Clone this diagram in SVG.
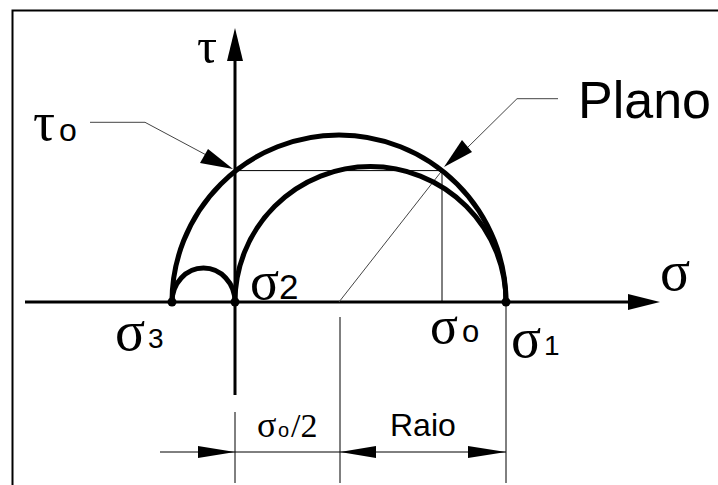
<svg xmlns="http://www.w3.org/2000/svg" width="718" height="485" viewBox="0 0 718 485">
<style>
.thick{fill:none;stroke:#000;stroke-width:5;stroke-linecap:round}
.axis{fill:none;stroke:#000;stroke-width:3}
.thin{fill:none;stroke:#000;stroke-width:1}
.lead{fill:none;stroke:#444;stroke-width:1}
.g{font-family:"Liberation Serif","Times New Roman",serif;fill:#000}
.s{font-family:"Liberation Sans",Arial,sans-serif;fill:#000}
</style>
<rect width="718" height="485" fill="#fff"/>
<g id="frame"><path d="M12.5,485 V10.5 H718" fill="none" stroke="#000" stroke-width="2"/></g>
<g id="connectors">
<path class="axis" d="M235,395 V50"/>
<polygon points="235,28 227,61 243,61"/>
<path class="axis" d="M25,302 H640"/>
<polygon points="660,302 628,294 628,310"/>
<path class="thin" d="M235,170.6 H442 V302"/>
<path class="lead" d="M339,302 L442,170.6"/>
<path class="lead" d="M90,122.3 H145 L210,157"/>
<polygon points="233,169 200,163 208,149"/>
<path class="lead" d="M558,98.7 H517 L465,150"/>
<polygon points="444,167 462,140 472,152"/>
<path class="thin" d="M235,412 V483 M340,317 V483 M506,302 V483"/>
<path class="thin" d="M160,452 H506"/>
<polygon points="235,452 198,446 198,458"/>
<polygon points="340,452 376,446 376,458"/>
<polygon points="506,452 468,446 468,458"/>
</g>
<g id="circles">
<path class="thick" d="M172,302 A167,167 0 0 1 506,302"/>
<path class="thick" d="M235,302 A135.5,135.5 0 0 1 506,302"/>
<path class="thick" d="M172,302 A31.5,34 0 0 1 235,302"/>
</g>
<g id="points">
<circle cx="172" cy="302" r="4.5"/>
<circle cx="235" cy="302" r="4.5"/>
<circle cx="506" cy="302" r="4.5"/>
</g>
<g id="labels">
<text class="g" x="197" y="63" font-size="50">τ</text>
<text class="g" x="33" y="140" font-size="55">τ</text><text class="s" x="59" y="141" font-size="32">o</text>
<text class="s" x="578" y="118" font-size="52">Plano</text>
<text class="g" x="660" y="290" font-size="56">σ</text>
<text class="g" x="250" y="299" font-size="54">σ</text><text class="s" x="279" y="299" font-size="35">2</text>
<text class="g" x="115" y="350" font-size="56">σ</text><text class="s" x="148" y="348" font-size="28">3</text>
<text class="g" x="430" y="343" font-size="52">σ</text><text class="s" x="462" y="342" font-size="31">o</text>
<text class="g" x="511" y="357" font-size="56">σ</text><text class="s" x="544" y="355" font-size="28">1</text>
<text class="g" x="257" y="437" font-size="36">σ</text><text class="s" x="278" y="437" font-size="20">o</text><text class="g" x="291" y="437" font-size="34">/2</text>
<text class="s" x="390" y="436" font-size="32">Raio</text>
</g>
</svg>
